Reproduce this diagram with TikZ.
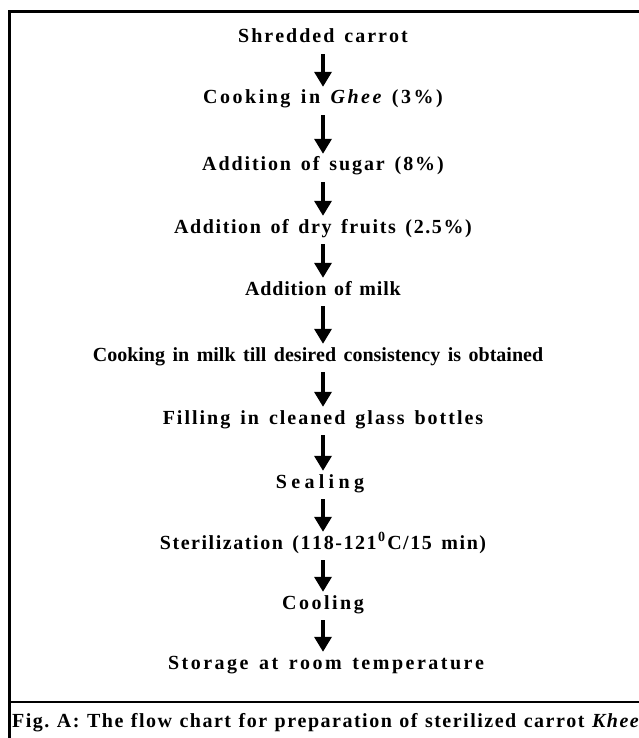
\documentclass[tikz,border=0pt]{standalone}
\usepackage{fontspec}
\setmainfont{Liberation Serif}
\usetikzlibrary{arrows.meta}
\ExplSyntaxOn
\NewDocumentCommand \spaced { O{2.2pt} O{8pt} m }
  {
    \seq_set_split:Nnn \l_tmpa_seq { ~ } { #3 }
    \seq_map_indexed_inline:Nn \l_tmpa_seq
      {
        \int_compare:nNnT { ##1 } > { 1 } { \hspace*{#2} }
        \tl_map_inline:nn { ##2 } { { ####1 } \kern #1 }
      }
    \kern -#1
  }
\ExplSyntaxOff
\begin{document}
\begin{tikzpicture}[x=1pt,y=-1pt,
  stepnode/.style={font=\bfseries\fontsize{20}{24}\selectfont, inner sep=0pt,
    text height=14pt, text depth=5pt, anchor=base},
  capnode/.style={font=\bfseries\fontsize{20}{24}\selectfont, inner sep=0pt, anchor=base west},
  flow/.style={line width=3.4pt, -{Triangle[length=15pt,width=17pt]}, shorten <=6pt, shorten >=3pt},
  frameline/.style={line width=2.8pt}]
\useasboundingbox (0,0) rectangle (639,738);
\draw[frameline] (9.5,738) -- (9.5,11.3) -- (639,11.3);
\draw[frameline] (9.5,702) -- (639,702);
\node[stepnode] (s1) at (323,43) {\spaced[2.0pt]{Shredded carrot}};
\node[stepnode] (s2) at (323,104) {\spaced[2.5pt]{Cooking in {\itshape G}{\itshape h}{\itshape e}{\itshape e} (3\%)}};
\node[stepnode] (s3) at (323,171) {\spaced[1.9pt]{Addition of sugar (8\%)}};
\node[stepnode] (s4) at (323,233) {\spaced[1.6pt]{Addition of dry fruits (2.5\%)}};
\node[stepnode] (s5) at (323,295) {\spaced[0.8pt][7pt]{Addition of milk}};
\node[stepnode] (s6) at (318,361) {\spaced[0pt][7.5pt]{Cooking in milk till desired consistency is obtained}};
\node[stepnode] (s7) at (323,424) {\spaced[2.0pt]{Filling in cleaned glass bottles}};
\node[stepnode] (s8) at (320,488) {\spaced[4.3pt]{Sealing}};
\node[stepnode] (s9) at (323,549) {\spaced[1.55pt]{Sterilization (118-121{\textsuperscript{0}}C/15 min)}};
\node[stepnode] (s10) at (323,609) {\spaced[2.5pt]{Cooling}};
\node[stepnode] (s11) at (326,669) {\spaced[2.5pt]{Storage at room temperature}};
\node[capnode] (cap) at (12,727) {\spaced[1.5pt][6pt]{Fig. A: The flow chart for preparation of sterilized carrot {\itshape K}{\itshape h}{\itshape e}{\itshape e}}};
\foreach \a/\b in {s1/s2,s2/s3,s3/s4,s4/s5,s9/s10}
  \draw[flow] (\a.south) -- (\b.north);
\draw[flow] (s5.south) -- (s6.north -| s5);
\draw[flow] (s6.south -| s7) -- (s7.north);
\draw[flow] (s7.south) -- (s8.north -| s7);
\draw[flow] (s8.south -| s9) -- (s9.north);
\draw[flow] (s10.south) -- (s11.north -| s10);
\end{tikzpicture}
\end{document}
